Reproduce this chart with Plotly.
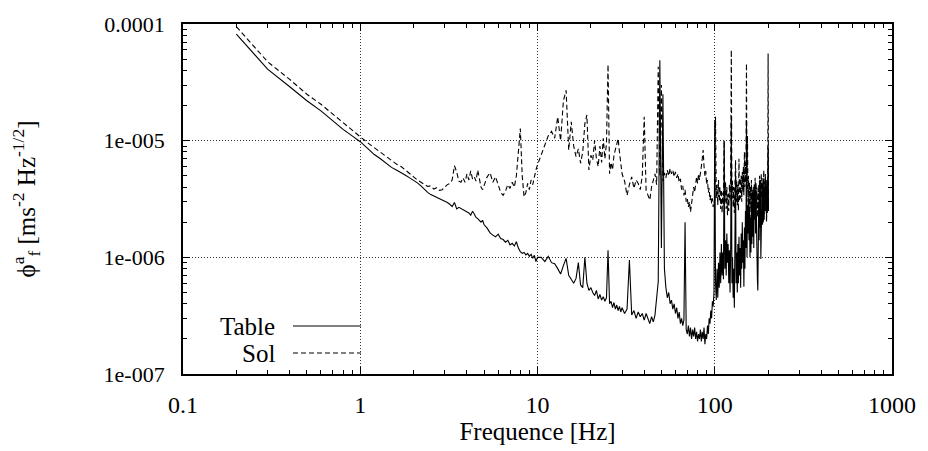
import plotly.graph_objects as go

# Frequencies [Hz] (shared by both series)
freq = [
    0.2, 0.3, 0.4, 0.5, 0.6, 0.7, 0.8, 0.9, 1.0, 1.1, 1.2, 1.3, 1.4, 1.5, 1.6, 1.7, 1.8, 1.9, 2.0,
    2.1, 2.2, 2.3, 2.4, 2.5, 2.6, 2.7, 2.8, 2.9, 3.0, 3.1, 3.2, 3.3, 3.4, 3.5, 3.6, 3.7, 3.8, 3.9, 4.0,
    4.1, 4.2, 4.3, 4.4, 4.5, 4.6, 4.7, 4.8, 4.9, 5.0,
    5.2, 5.4, 5.6, 5.8, 6.0, 6.2, 6.4, 6.6, 6.8, 7.0, 7.2, 7.4, 7.6, 7.8, 8.0, 8.2, 8.4, 8.6, 8.8,
    9.0, 9.2, 9.4, 9.6, 9.8, 10.0,
    10.5, 11.0, 11.5, 12.0, 12.5, 13.0, 13.5, 14.0, 14.5, 15.0, 15.5, 16.0, 16.5, 17.0, 17.5, 18.0,
    18.5, 19.0, 19.5, 20.0, 20.5, 21.0, 21.5, 22.0, 22.5, 23.0, 23.5, 24.0, 24.5, 25.0, 25.5, 26.0,
    26.5, 27.0, 27.5, 28.0, 28.5, 29.0, 29.5, 30.0,
    31, 32, 33, 34, 35, 36, 37, 38, 39, 40, 41, 42, 43, 44, 45, 46, 47, 48, 49, 50,
    51, 52, 53, 54, 55, 56, 57, 58, 59, 60, 61, 62, 63, 64, 65, 66, 67, 68, 69, 70,
    71, 72, 73, 74, 75, 76, 77, 78, 79, 80, 81, 82, 83, 84, 85, 86, 87, 88, 89, 90,
    91, 92, 93, 94, 95, 96, 97, 98, 99, 100, 101, 102, 103, 104, 105, 106, 107, 108, 109, 110,
    111, 112, 113, 114, 115, 116, 117, 118, 119, 120, 121, 122, 123, 124, 125, 126, 127, 128, 129, 130,
    131, 132, 133, 134, 135, 136, 137, 138, 139, 140, 141, 142, 143, 144, 145, 146, 147, 148, 149, 150,
    151, 152, 153, 154, 155, 156, 157, 158, 159, 160, 161, 162, 163, 164, 165, 166, 167, 168, 169, 170,
    171, 172, 173, 174, 175, 176, 177, 178, 179, 180, 181, 182, 183, 184, 185, 186, 187, 188, 189, 190,
    191, 192, 193, 194, 195, 196, 197, 198, 199, 200, 201,
]

# "Table" series (solid)
table = [
    8.2e-5, 4.1e-5, 2.9e-5, 2.2e-5, 1.8e-5, 1.47e-5, 1.25e-5, 1.1e-5, 9.8e-6, 8.6e-6, 7.6e-6, 7.0e-6,
    6.4e-6, 5.9e-6, 5.6e-6, 5.35e-6, 5.05e-6, 4.8e-6, 4.6e-6,
    4.35e-6, 4.1e-6, 3.8e-6, 3.6e-6, 3.45e-6, 3.35e-6, 3.3e-6, 3.22e-6, 3.12e-6, 3.05e-6, 2.95e-6,
    2.85e-6, 2.72e-6, 2.95e-6, 2.6e-6, 2.68e-6, 2.62e-6, 2.55e-6, 2.5e-6, 2.45e-6,
    2.4e-6, 2.3e-6, 2.48e-6, 2.35e-6, 2.2e-6, 2.15e-6, 2.05e-6, 2.0e-6, 2.08e-6, 1.9e-6,
    1.78e-6, 1.62e-6, 1.55e-6, 1.5e-6, 1.58e-6, 1.45e-6, 1.42e-6, 1.35e-6, 1.4e-6, 1.28e-6, 1.32e-6,
    1.25e-6, 1.36e-6, 1.2e-6, 1.12e-6, 1.08e-6, 1.1e-6, 1.05e-6, 1.08e-6,
    1.02e-6, 1.06e-6, 9.8e-7, 1.04e-6, 9.2e-7, 1.0e-6,
    1.0e-6, 9.2e-7, 1.02e-6, 9.0e-7, 8.8e-7, 8.0e-7, 7.2e-7, 8.5e-7, 9.8e-7, 7.0e-7, 6.4e-7, 6.0e-7,
    6.6e-7, 9.0e-7, 5.8e-7, 5.5e-7,
    1.0e-6, 6.0e-7, 5.2e-7, 5.5e-7, 5.0e-7, 4.7e-7, 5.2e-7, 4.4e-7, 4.8e-7, 4.3e-7, 4.6e-7, 4.2e-7,
    4.5e-7, 1.15e-6, 4.0e-7, 4.2e-7,
    3.7e-7, 4.1e-7, 3.6e-7, 3.9e-7, 3.5e-7, 3.8e-7, 3.4e-7, 3.7e-7,
    3.3e-7, 3.6e-7, 9.5e-7, 3.2e-7, 3.5e-7, 3.0e-7, 3.4e-7, 3.1e-7, 3.3e-7, 2.9e-7,
    3.3e-7, 3.0e-7, 2.7e-7, 3.1e-7, 2.8e-7, 3.2e-7, 4.5e-7, 6.2e-7, 4.9e-5, 1.2e-6,
    2.5e-5, 8.0e-7, 5.5e-7, 4.5e-7, 5.0e-7, 4.0e-7, 4.3e-7, 3.6e-7, 4.0e-7, 3.3e-7,
    3.7e-7, 3.0e-7, 3.4e-7, 2.7e-7, 3.0e-7, 2.6e-7, 2.9e-7, 2.0e-6, 2.4e-7, 2.2e-7,
    2.6e-7, 2.1e-7, 2.5e-7, 2.0e-7, 2.4e-7, 2.1e-7, 2.5e-7, 2.0e-7, 2.3e-7, 1.9e-7,
    2.2e-7, 2.0e-7, 2.4e-7, 1.9e-7, 2.3e-7, 2.0e-7, 2.5e-7, 1.8e-7, 2.2e-7, 2.0e-7,
    2.6e-7, 2.2e-7, 3.0e-7, 2.7e-7, 3.5e-7, 3.0e-7, 4.2e-7, 3.8e-7, 5.0e-7, 1.5e-5,
    6.0e-7, 4.3e-7, 8.0e-7, 4.5e-7, 9.0e-7, 5.5e-7, 1.1e-6, 6.0e-7, 1.3e-6, 7.0e-7,
    1.1e-6, 6.5e-7, 1.0e-5, 8.0e-7, 1.4e-6, 7.0e-7, 1.6e-6, 9.0e-7, 1.3e-6, 6.0e-7,
    1.15e-6, 5.0e-7, 1.2e-6, 1.5e-5, 6.0e-7, 1.0e-6, 4.5e-7, 8.0e-7, 3.7e-7, 9.0e-7,
    5.5e-6, 6.0e-7, 1.1e-6, 5.0e-7, 1.3e-6, 6.0e-7, 1.5e-6, 7.0e-7, 1.2e-6, 5.5e-7,
    1.6e-6, 8.0e-7, 2.0e-6, 9.0e-7, 1.4e-6, 5.6e-7, 1.8e-6, 8.0e-7, 2.5e-6, 1.2e-6,
    1.5e-5, 1.0e-6, 2.8e-6, 1.6e-6, 3.2e-6, 1.4e-6, 2.6e-6, 1.0e-6, 2.2e-6, 1.1e-6,
    3.0e-6, 1.3e-6, 3.5e-6, 1.5e-6, 4.0e-6, 1.2e-6, 3.4e-6, 2.1e-6, 4.2e-6, 1.6e-6,
    3.6e-6, 1.0e-6, 2.4e-6, 6.5e-7, 5.2e-7, 1.2e-6, 3.0e-6, 1.4e-6, 4.0e-6, 1.8e-6,
    3.6e-6, 9.7e-7, 2.8e-6, 1.5e-6, 4.2e-6, 1.9e-6, 3.8e-6, 2.0e-6, 4.5e-6, 2.1e-6,
    3.6e-6, 2.3e-6, 4.8e-6, 2.5e-6, 4.0e-6, 2.2e-6, 4.6e-6, 2.6e-6, 4.2e-6, 8.9e-6, 2.5e-6,
]

# "Sol" series (dashed)
sol = [
    9.5e-5, 4.75e-5, 3.35e-5, 2.5e-5, 2.05e-5, 1.68e-5, 1.42e-5, 1.22e-5, 1.08e-5, 9.6e-6, 8.7e-6,
    7.9e-6, 7.3e-6, 6.7e-6, 6.3e-6, 6.0e-6, 5.6e-6, 5.3e-6, 4.9e-6,
    4.6e-6, 4.4e-6, 4.2e-6, 4.05e-6, 4.1e-6, 3.85e-6, 3.95e-6, 3.75e-6, 3.8e-6, 4.0e-6, 4.2e-6,
    4.3e-6, 4.6e-6, 6.1e-6, 5.4e-6, 4.5e-6, 4.4e-6, 4.8e-6, 4.4e-6, 5.2e-6,
    4.6e-6, 5.5e-6, 4.7e-6, 4.9e-6, 4.5e-6, 5.6e-6, 4.6e-6, 4.0e-6, 3.8e-6, 4.2e-6,
    4.9e-6, 5.3e-6, 4.4e-6, 4.9e-6, 4.1e-6, 3.6e-6, 3.4e-6, 3.7e-6, 4.2e-6, 3.9e-6, 4.4e-6,
    4.0e-6, 5.0e-6, 7.5e-6, 1.27e-5, 5.0e-6, 3.3e-6, 3.6e-6, 4.3e-6,
    3.8e-6, 4.6e-6, 4.2e-6, 5.0e-6, 5.6e-6, 6.2e-6,
    7.6e-6, 8.9e-6, 1.1e-5, 1.2e-5, 1.05e-5, 1.6e-5, 1.0e-5, 2.2e-5, 2.7e-5, 8.3e-6, 1.45e-5, 9.0e-6,
    7.3e-6, 8.5e-6, 6.4e-6, 8.0e-6,
    1.4e-5, 1.66e-5, 5.6e-6, 7.5e-6, 6.8e-6, 1.0e-5, 7.0e-6, 6.0e-6, 9.0e-6, 6.5e-6, 1.05e-5, 7.0e-6,
    9.5e-6, 4.5e-5, 5.2e-6, 6.5e-6,
    5.6e-6, 7.5e-6, 8.3e-6, 9.0e-6, 1.04e-5, 8.0e-6, 6.5e-6, 5.2e-6,
    4.5e-6, 3.4e-6, 4.2e-6, 4.9e-6, 3.9e-6, 4.6e-6, 4.3e-6, 3.8e-6, 5.0e-6, 1.6e-5,
    3.75e-6, 3.4e-6, 3.1e-6, 4.0e-6, 4.6e-6, 5.2e-6, 4.2e-6, 4.3e-5, 5.0e-6, 3.0e-5,
    4.5e-6, 5.3e-6, 4.8e-6, 5.6e-6, 5.0e-6, 5.8e-6, 5.2e-6, 5.6e-6, 4.9e-6, 5.4e-6,
    4.8e-6, 5.2e-6, 4.4e-6, 4.7e-6, 3.8e-6, 4.1e-6, 3.4e-6, 3.8e-6, 3.0e-6, 3.2e-6,
    2.7e-6, 3.0e-6, 2.45e-6, 2.9e-6, 3.3e-6, 4.0e-6, 3.6e-6, 4.4e-6, 4.9e-6, 4.3e-6,
    5.2e-6, 4.6e-6, 5.6e-6, 6.0e-6, 7.0e-6, 8.3e-6, 6.0e-6, 5.0e-6, 5.5e-6, 4.2e-6,
    4.6e-6, 3.6e-6, 3.9e-6, 3.1e-6, 3.4e-6, 2.9e-6, 3.2e-6, 2.7e-6, 3.0e-6, 2.8e-6,
    1.6e-5, 3.2e-6, 4.2e-6, 2.8e-6, 4.6e-6, 3.0e-6, 4.0e-6, 2.6e-6, 3.8e-6, 2.4e-6,
    3.6e-6, 2.8e-6, 1.0e-5, 3.0e-6, 4.4e-6, 2.6e-6, 4.0e-6, 2.3e-6, 3.5e-6, 2.5e-6,
    4.2e-6, 3.0e-6, 5.0e-6, 6.0e-5, 3.2e-6, 4.5e-6, 2.7e-6, 4.0e-6, 2.4e-6, 3.6e-6,
    6.8e-6, 3.0e-6, 4.6e-6, 2.8e-6, 4.2e-6, 2.5e-6, 7.0e-6, 3.0e-6, 4.8e-6, 3.2e-6,
    5.0e-6, 3.0e-6, 5.4e-6, 3.6e-6, 6.0e-6, 3.4e-6, 8.0e-6, 4.0e-6, 6.5e-6, 4.4e-6,
    4.6e-5, 3.6e-6, 1.1e-5, 3.0e-6, 5.0e-6, 2.4e-6, 4.4e-6, 2.2e-6, 4.0e-6, 2.6e-6,
    4.6e-6, 2.2e-6, 3.8e-6, 2.0e-6, 3.6e-6, 2.4e-6, 4.2e-6, 2.8e-6, 4.8e-6, 3.0e-6,
    4.4e-6, 2.6e-6, 4.0e-6, 2.2e-6, 3.6e-6, 2.4e-6, 4.2e-6, 2.8e-6, 5.0e-6, 3.0e-6,
    4.6e-6, 2.7e-6, 5.2e-6, 3.2e-6, 4.4e-6, 2.6e-6, 4.8e-6, 3.0e-6, 5.6e-6, 2.8e-6,
    4.6e-6, 2.5e-6, 5.2e-6, 2.2e-6, 4.0e-6, 2.0e-6, 4.6e-6, 2.4e-6, 3.6e-6, 5.6e-5, 2.4e-6,
]

x_tick_vals = [0.1, 1, 10, 100, 1000]
x_tick_text = ["0.1", "1", "10", "100", "1000"]
y_tick_vals = [1e-7, 1e-6, 1e-5, 1e-4]
y_tick_text = ["1e-007", "1e-006", "1e-005", "0.0001"]
legend_names = ["Table", "Sol"]

FONT = "Liberation Serif"

x_minor = [k * 10.0 ** e for e in range(-1, 3) for k in range(2, 10)]
y_minor = [k * 10.0 ** e for e in range(-7, -4) for k in range(2, 10)]

fig = go.Figure()
fig.add_trace(go.Scatter(x=freq, y=table, mode="lines", name=legend_names[0],
                         line=dict(color="black", width=1.1), showlegend=False))
fig.add_trace(go.Scatter(x=freq, y=sol, mode="lines", name=legend_names[1],
                         line=dict(color="black", width=1.1, dash="5px,3px"), showlegend=False))

axis_common = dict(
    showline=True, linecolor="black", linewidth=1.8, mirror="ticks",
    ticks="inside", ticklen=7, tickwidth=1, tickcolor="black",
    showgrid=True, gridcolor="#333333", gridwidth=1, griddash="1px,2px",
    zeroline=False, tickmode="array",
)

fig.update_xaxes(type="log", range=[-1, 3], tickvals=x_tick_vals, ticktext=x_tick_text,
                 ticklabelstandoff=8,
                 tickfont=dict(family=FONT, size=24, color="black"),
                 minor=dict(tickmode="array", tickvals=x_minor, ticks="inside", ticklen=4,
                            tickcolor="black", showgrid=False),
                 title=dict(text="Frequence [Hz]", font=dict(family=FONT, size=25, color="black"),
                            standoff=6),
                 **axis_common)
fig.update_yaxes(type="log", range=[-7, -4], tickvals=y_tick_vals, ticktext=y_tick_text,
                 ticklabelstandoff=12,
                 tickfont=dict(family=FONT, size=22, color="black"),
                 minor=dict(tickmode="array", tickvals=y_minor, ticks="inside", ticklen=4,
                            tickcolor="black", showgrid=False),
                 title=dict(text="ϕ<sup>a</sup><sub>f</sub> [ms<sup>-2</sup> Hz<sup>-1/2</sup>]",
                            font=dict(family=FONT, size=25, color="black"), standoff=62),
                 **axis_common)

# Page is offset by the browser's default 8px body margin; plot area in page px:
PL, PT, PW, PH = 183.0, 24.0, 709.0, 350.0
def px_x(p):
    return (p - PL) / PW
def px_y(p):
    return (PT + PH - p) / PH

# blank key area hiding the grid behind the key, key samples and labels
fig.add_shape(type="rect", xref="paper", yref="paper", layer="between",
              x0=px_x(205), x1=px_x(366), y0=px_y(372), y1=px_y(313),
              fillcolor="white", line=dict(width=0))
key_rows = [326, 353]
dashes = ["solid", "5px,3px"]
for name, row, d in zip(legend_names, key_rows, dashes):
    fig.add_shape(type="line", xref="paper", yref="paper",
                  x0=px_x(293), x1=px_x(361), y0=px_y(row), y1=px_y(row),
                  line=dict(color="black", width=1.1, dash=d))
    fig.add_annotation(text=name, xref="paper", yref="paper", x=px_x(277), y=px_y(row),
                       xanchor="right", yanchor="middle", showarrow=False,
                       font=dict(family=FONT, size=25, color="black"))

fig.update_layout(
    width=920, height=443,
    margin=dict(l=175, r=36, t=16, b=77, autoexpand=False),
    paper_bgcolor="white", plot_bgcolor="white",
    showlegend=False,
)

fig.write_html("out.html")
